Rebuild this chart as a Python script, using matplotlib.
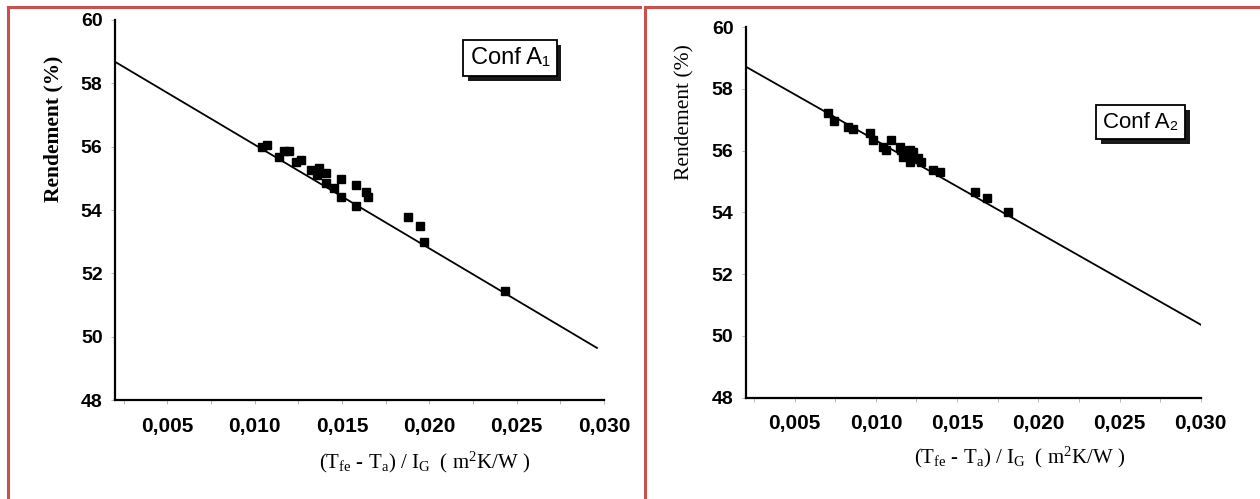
import matplotlib
matplotlib.use("Agg")
import matplotlib.pyplot as plt
import matplotlib.patheffects as pe
from matplotlib.lines import Line2D
from matplotlib.ticker import MultipleLocator, FuncFormatter

plt.rcParams['mathtext.fontset'] = 'custom'
plt.rcParams['mathtext.rm'] = 'Liberation Serif'
plt.rcParams['mathtext.it'] = 'Liberation Serif:italic'
plt.rcParams['mathtext.bf'] = 'Liberation Serif:bold'

# Conf A1 measured points
xa1 = [0.01043, 0.01072, 0.01139, 0.01167, 0.01196, 0.01234, 0.01263, 0.01321,
       0.01359, 0.01369, 0.01407, 0.01407, 0.01454, 0.01493, 0.01493, 0.01579,
       0.01579, 0.01637, 0.01646, 0.01876, 0.01949, 0.01972, 0.02432]
ya1 = [56.00, 56.06, 55.69, 55.85, 55.88, 55.53, 55.58, 55.27,
       55.11, 55.32, 55.16, 54.85, 54.69, 54.97, 54.41, 54.79,
       54.13, 54.58, 54.41, 53.78, 53.50, 53.00, 51.46]
# Conf A1 fitted line (end points)
line_xa1 = [0.0020, 0.0296]
line_ya1 = [58.68, 49.65]

# Conf A2 measured points
xa2 = [0.00704, 0.00745, 0.00827, 0.00858, 0.00961, 0.00981, 0.01043, 0.01064,
       0.01095, 0.01146, 0.01156, 0.01167, 0.01187, 0.01208, 0.01208, 0.01230,
       0.01259, 0.01280, 0.01180, 0.01220, 0.01352, 0.01393, 0.01610, 0.01681,
       0.01815]
ya2 = [57.23, 56.97, 56.77, 56.69, 56.58, 56.34, 56.13, 56.02,
       56.34, 56.13, 56.02, 55.80, 55.86, 55.64, 56.02, 55.96,
       55.75, 55.64, 55.95, 55.80, 55.37, 55.32, 54.67, 54.46,
       54.02]
line_xa2 = [0.0020, 0.0300]
line_ya2 = [58.72, 50.36]

xticks = [0.005, 0.010, 0.015, 0.020, 0.025, 0.030]
yticks = [48, 50, 52, 54, 56, 58, 60]

fig = plt.figure(figsize=(12.6, 4.99), dpi=100)
ax1 = fig.add_axes([0.0913, 0.198, 0.388, 0.762])
ax2 = fig.add_axes([0.592, 0.2034, 0.361, 0.742])

comma = FuncFormatter(lambda v, p: ('%.3f' % v).replace('.', ','))


def style(ax):
    ax.set_xlim(0.002, 0.030)
    ax.set_ylim(48, 60)
    ax.spines['top'].set_visible(False)
    ax.spines['right'].set_visible(False)
    ax.spines['left'].set_linewidth(1.6)
    ax.spines['bottom'].set_linewidth(1.6)
    ax.set_xticks(xticks)
    ax.set_yticks(yticks)
    ax.xaxis.set_major_formatter(comma)
    ax.xaxis.set_minor_locator(MultipleLocator(0.0025))
    ax.tick_params(axis='x', which='both', length=3, width=0.6, color='#aaaaaa', pad=9)
    ax.tick_params(axis='y', length=3, width=0.6, color='#aaaaaa', pad=6)
    for lab in ax.get_xticklabels():
        lab.set_fontfamily('Liberation Sans')
        lab.set_fontsize(15)
        lab.set_fontweight('bold')
    for lab in ax.get_yticklabels():
        lab.set_fontfamily('Liberation Sans')
        lab.set_fontsize(14)
        lab.set_fontweight('bold')


def conf_box(ax, x, y, txt, fs):
    t = ax.text(x, y, txt, transform=ax.transAxes, ha='center', va='center',
                fontsize=fs, family=['Liberation Sans', 'DejaVu Sans'],
                bbox=dict(boxstyle='square,pad=0.3', fc='white', ec='black', lw=1.3))
    t.get_bbox_patch().set_path_effects([
        pe.SimplePatchShadow(offset=(3.5, -3.5), shadow_rgbFace='black', alpha=0.9),
        pe.Normal()])


xlab = r'(T$_{\mathrm{fe}}$ - T$_{\mathrm{a}}$) / I$_{\mathrm{G}}$  ( m$^{2}$K/W )'

# left panel
ax1.plot(line_xa1, line_ya1, color='black', lw=1.3)
ax1.plot(xa1, ya1, 's', color='black', ms=6)
style(ax1)
ax1.set_xlabel(xlab, fontsize=15, family='Liberation Serif')
ax1.xaxis.set_label_coords(0.634, -0.13)
ax1.set_ylabel('Rendement (%)', fontsize=15.5, family='Liberation Serif', weight='bold')
ax1.yaxis.set_label_coords(-0.106, 0.713)
conf_box(ax1, 0.808, 0.9, 'Conf A\u2081', 17)

# right panel
ax2.plot(line_xa2, line_ya2, color='black', lw=1.3)
ax2.plot(xa2, ya2, 's', color='black', ms=6)
style(ax2)
ax2.set_xlabel(xlab, fontsize=15, family='Liberation Serif')
ax2.xaxis.set_label_coords(0.602, -0.128)
ax2.set_ylabel('Rendement (%)', fontsize=15.5, family='Liberation Serif')
ax2.yaxis.set_label_coords(-0.112, 0.77)
conf_box(ax2, 0.868, 0.744, 'Conf A\u2082', 16)

# red frame lines
red = '#c8504f'
W, H = 1260.0, 499.0
for (x0, y0, x1, y1) in [(8, 7, 640, 7), (8, 7, 8, 499), (645, 7, 1260, 7), (645, 7, 645, 499)]:
    fig.add_artist(Line2D([x0 / W, x1 / W], [1 - y0 / H, 1 - y1 / H],
                          transform=fig.transFigure, color=red, lw=2.2))

fig.savefig('out.png', dpi=100)
